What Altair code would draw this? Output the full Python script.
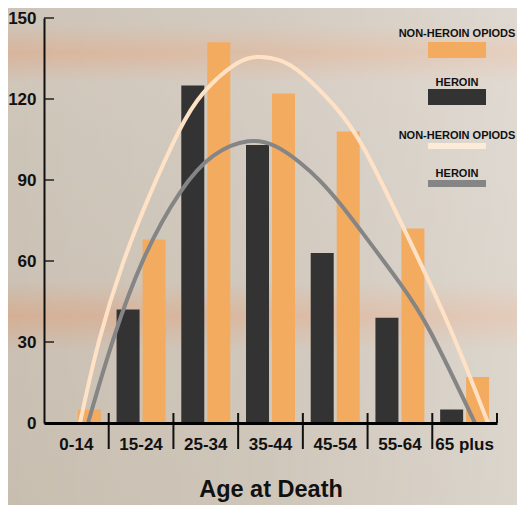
import altair as alt
import pandas as pd

# ---------------- data ----------------
categories = ["0-14", "15-24", "25-34", "35-44", "45-54", "55-64", "65 plus"]
heroin = [0, 42, 125, 103, 63, 39, 5]
non_heroin = [5, 68, 141, 122, 108, 72, 17]
series_names = ["HEROIN", "NON-HEROIN OPIODS"]
y_ticks = [0, 30, 60, 90, 120, 150]

# trend curves (x in category units, 0..7)
light_u = [0.556, 0.834, 1.221, 1.638, 2.102, 2.411, 3.029, 3.338, 3.647, 3.956, 4.528, 4.914, 5.548, 6.243, 6.861]
light_v = [0, 30.7, 60.4, 85.2, 109.6, 122.2, 135.2, 135.9, 134.8, 130.7, 117.0, 104.4, 72.6, 38.1, 0]
gray_u = [0.680, 1.051, 1.514, 2.117, 2.611, 3.183, 3.570, 3.956, 4.265, 4.574, 4.914, 5.548, 5.903, 6.660]
gray_v = [0, 30.7, 61.5, 87.4, 100.4, 105.6, 103.3, 96.7, 90.0, 81.5, 70.7, 50.4, 38.1, 0]

legend_labels = ["NON-HEROIN OPIODS", "HEROIN", "NON-HEROIN OPIODS", "HEROIN"]

# ---------------- styles ----------------
DARK = "#333333"
ORANGE = "#F3AB5F"
LIGHT = "#FFE2C6"
GRAY = "#858585"
FONT = "Liberation Sans, Arial, sans-serif"

W, H = 453, 405
PAD = {"left": 36, "top": 10, "right": 20, "bottom": 82}

bars_df = pd.DataFrame({
    "cat": categories * 2,
    "series": [series_names[0]] * len(categories) + [series_names[1]] * len(categories),
    "value": heroin + non_heroin,
})
light_df = pd.DataFrame({"u": light_u, "v": light_v})
gray_df = pd.DataFrame({"u": gray_u, "v": gray_v})
ticks_df = pd.DataFrame({"v": y_ticks})
div_df = pd.DataFrame({"u": list(range(1, len(categories)))})
end_df = pd.DataFrame({"u": [len(categories)]})
one = pd.DataFrame({"a": [0]})

u_scale = alt.Scale(domain=[0, len(categories)])
y_scale = alt.Scale(domain=[0, 150], nice=False)

# ---------------- background ----------------
def stop(c, o):
    return alt.GradientStop(color=c, offset=o)

bg_grad = alt.LinearGradient(
    gradient="linear", x1=0, y1=0, x2=0, y2=1,
    stops=[
        stop("#CDC4B9", 0.0), stop("#CEC3B6", 0.035), stop("#D8B59C", 0.09),
        stop("#D0C6BA", 0.15), stop("#CDC4B8", 0.28), stop("#CBC1B4", 0.55),
        stop("#D5AF95", 0.62), stop("#CAC0B3", 0.69), stop("#C8BEB0", 1.0),
    ],
)
light_grad = alt.LinearGradient(
    gradient="linear", x1=0, y1=0, x2=1, y2=0,
    stops=[stop("rgba(255,255,255,0)", 0.0), stop("rgba(255,255,255,0.12)", 0.5),
           stop("rgba(255,255,255,0.35)", 1.0)],
)

bg = alt.Chart(one).mark_rect(fill=bg_grad).encode(
    x=alt.value(-PAD["left"]), x2=alt.value(W + PAD["right"]),
    y=alt.value(-PAD["top"]), y2=alt.value(H + PAD["bottom"]),
)
bg2 = alt.Chart(one).mark_rect(fill=light_grad).encode(
    x=alt.value(-PAD["left"]), x2=alt.value(W + PAD["right"]),
    y=alt.value(-PAD["top"]), y2=alt.value(H + PAD["bottom"]),
)

# ---------------- bars ----------------
bars = alt.Chart(bars_df).mark_bar().encode(
    x=alt.X("cat:N", sort=categories,
            scale=alt.Scale(paddingInner=0.243, paddingOuter=0.1215),
            axis=alt.Axis(title="Age at Death", labelAngle=0, ticks=False, zindex=2,
                          domain=True, domainColor="#000000", domainWidth=3,
                          labelFont=FONT, labelFontSize=17, labelFontWeight="bold",
                          labelColor="#111111", labelPadding=13,
                          titleFont=FONT, titleFontSize=23.5, titleFontWeight="bold",
                          titleColor="#111111", titleBaseline="alphabetic", titleY=73)),
    xOffset=alt.XOffset("series:N", sort=series_names,
                        scale=alt.Scale(paddingInner=0.115, paddingOuter=0)),
    y=alt.Y("value:Q", scale=y_scale,
            axis=alt.Axis(title=None, values=y_ticks, ticks=False, grid=False, zindex=2,
                          domain=True, domainColor="#111111", domainWidth=2,
                          labelFont=FONT, labelFontSize=17, labelFontWeight="bold",
                          labelColor="#111111", labelPadding=8)),
    color=alt.Color("series:N", sort=series_names,
                    scale=alt.Scale(domain=series_names, range=[DARK, ORANGE]), legend=None),
)

yticks = alt.Chart(ticks_df).mark_rule(color="#222222", strokeWidth=1.5).encode(
    y=alt.Y("v:Q", scale=y_scale), x=alt.value(0), x2=alt.value(10),
)

dividers = alt.Chart(div_df).mark_rule(color="#111111", strokeWidth=2).encode(
    x=alt.X("u:Q", scale=u_scale, axis=None), y=alt.value(H - 10), y2=alt.value(H + 26),
)
end_div = alt.Chart(end_df).mark_rule(color="#111111", strokeWidth=2).encode(
    x=alt.X("u:Q", scale=u_scale, axis=None), y=alt.value(H - 10), y2=alt.value(H),
)

gray_line = alt.Chart(gray_df).mark_line(color=GRAY, strokeWidth=4, interpolate="basis").encode(
    x=alt.X("u:Q", scale=u_scale, axis=None), y=alt.Y("v:Q", scale=y_scale),
)
light_line = alt.Chart(light_df).mark_line(color=LIGHT, strokeWidth=4, interpolate="basis").encode(
    x=alt.X("u:Q", scale=u_scale, axis=None), y=alt.Y("v:Q", scale=y_scale),
)

# ---------------- legend ----------------
LX = 413
text_y = [19, 68, 121, 159]
legend_layers = []
for lbl, ty in zip(legend_labels, text_y):
    legend_layers.append(
        alt.Chart(one).mark_text(font=FONT, fontSize=11, fontWeight="bold", color="#111111",
                                 align="center", baseline="alphabetic")
        .encode(x=alt.value(LX), y=alt.value(ty), text=alt.value(lbl))
    )
swatches = [(ORANGE, 24, 40), (DARK, 71, 87), ("#FDEBDA", 125, 131), (GRAY, 162, 169)]
for col, y0, y1 in swatches:
    legend_layers.append(
        alt.Chart(one).mark_rect(color=col).encode(
            x=alt.value(LX - 29), x2=alt.value(LX + 29), y=alt.value(y0), y2=alt.value(y1))
    )

chart = alt.layer(
    bg, bg2, bars, yticks, dividers, end_div, gray_line, light_line, *legend_layers
).resolve_scale(x="independent").properties(
    width=W, height=H,
    autosize=alt.AutoSizeParams(type="none"),
    padding=PAD,
).configure_view(strokeWidth=0).configure(background="#CCC2B6")

chart.save("out.html", embed_options={"renderer": "svg", "actions": False})
